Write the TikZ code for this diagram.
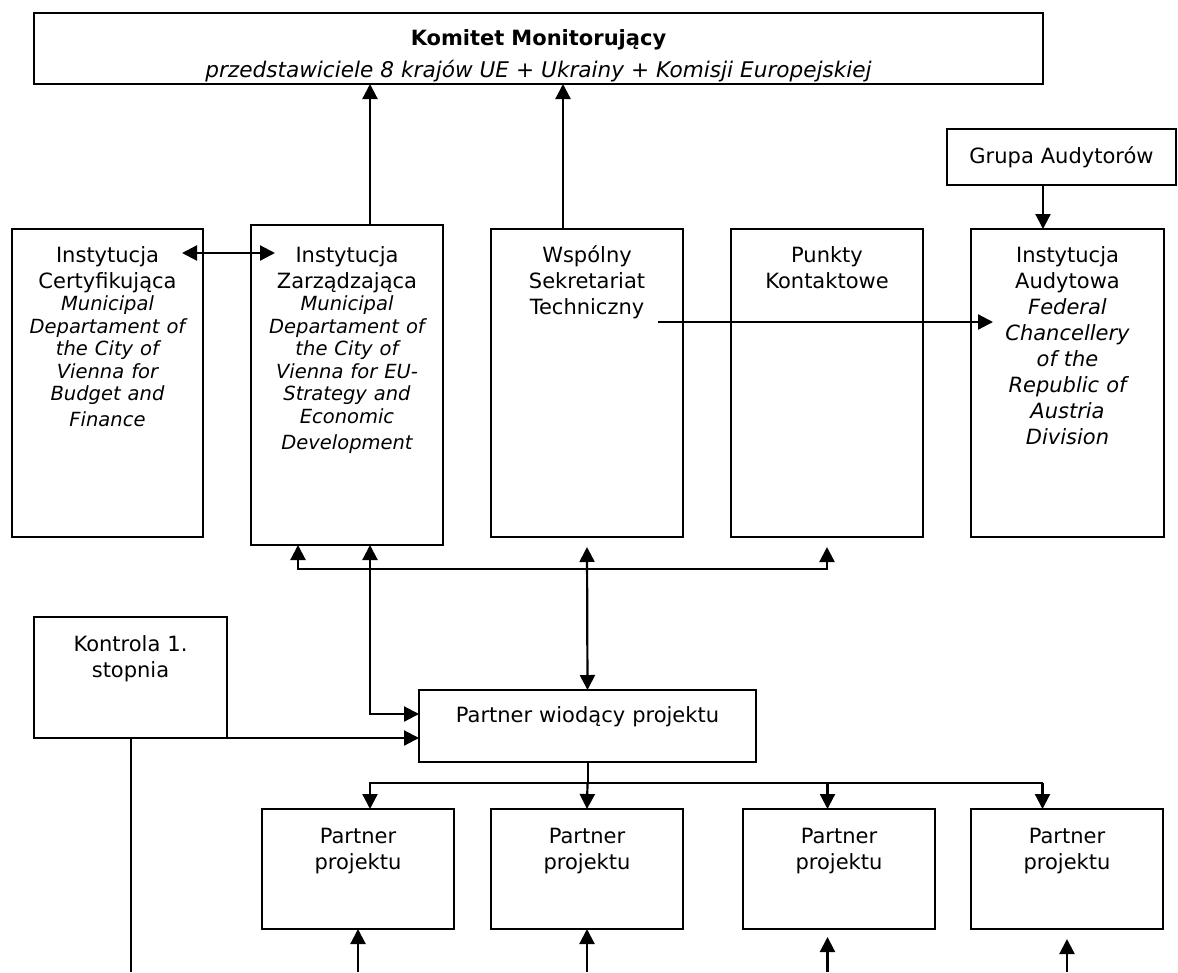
\documentclass[tikz,border=0pt]{standalone}
\usepackage{fontspec}
\setmainfont{DejaVu Sans}
\usetikzlibrary{arrows.meta,positioning}
\setlength{\parindent}{0pt}
\newcommand\bodyfnt{\fontsize{21}{26}\selectfont}
\newcommand\descfnt{\fontsize{19.5}{22.5}\selectfont\itshape}
\newcommand\firstln{\rule{0pt}{18pt}}

\begin{document}
\begin{tikzpicture}[x=1pt, y=-1pt, inner sep=0pt, outer sep=0pt,
  box/.style={draw, line width=2.2pt, anchor=north west},
  txt/.style={align=center, text width=190pt, font=\bodyfnt},
  arr/.style={line width=2.2pt, -{Triangle[length=15pt,width=15pt]}},
  darr/.style={line width=2.2pt, {Triangle[length=15pt,width=15pt]}-{Triangle[length=15pt,width=15pt]}}]
  \useasboundingbox[fill=white] (0,0) rectangle (1178,972);

  % top level
  \node[box, minimum width=1009pt, minimum height=71pt] (km) at (34,13) {};
  \node[txt, text width=1000pt, below=14pt of km.north] (km-t)
    {\firstln\textbf{Komitet Monitorujący}\\[6pt]\fontsize{21.6}{26}\selectfont\itshape przedstawiciele 8 krajów UE + Ukrainy + Komisji Europejskiej};
  \node[box, minimum width=229pt, minimum height=56pt] (ga) at (947,129) {};
  \node[txt, text width=220pt, below=16pt of ga.north] (ga-t) {\firstln Grupa Audytorów};

  % institutions
  \node[box, minimum width=191pt, minimum height=308pt] (ic) at (12,229) {};
  \node[txt, below=15pt of ic.north] (ic-t)
    {\firstln Instytucja\\Certyfikująca\par\descfnt Municipal\\Departament of\\the City of\\Vienna for\\Budget and\\Finance};
  \node[box, minimum width=192pt, minimum height=320pt] (iz) at (251,225) {};
  \node[txt, below=19pt of iz.north] (iz-t)
    {\firstln Instytucja\\Zarządzająca\par\descfnt Municipal\\Departament of\\the City of\\Vienna for EU-\\Strategy and\\Economic\\Development};
  \node[box, minimum width=192pt, minimum height=308pt] (wst) at (491,229) {};
  \node[txt, below=15pt of wst.north] (wst-t) {\firstln Wspólny\\Sekretariat\\Techniczny};
  \node[box, minimum width=192pt, minimum height=308pt] (pk) at (731,229) {};
  \node[txt, below=15pt of pk.north] (pk-t) {\firstln Punkty\\Kontaktowe};
  \node[box, minimum width=193pt, minimum height=308pt] (ia) at (971,229) {};
  \node[txt, below=15pt of ia.north] (ia-t)
    {\firstln Instytucja\\Audytowa\\\itshape Federal\\Chancellery\\of the\\Republic of\\Austria\\Division};

  % project level
  \node[box, minimum width=193pt, minimum height=121pt] (kt) at (34,617) {};
  \node[txt, below=16pt of kt.north] (kt-t) {\firstln Kontrola 1.\\stopnia};
  \node[box, minimum width=337pt, minimum height=72pt] (pw) at (419,690) {};
  \node[txt, text width=330pt, below=14pt of pw.north] (pw-t) {\firstln Partner wiodący projektu};
  \foreach \n/\x in {p1/262, p2/491, p3/743, p4/971} {
    \node[box, minimum width=192pt, minimum height=120pt] (\n) at (\x,809) {};
    \node[txt, below=16pt of \n.north] (\n-t) {\firstln Partner\\projektu};
  }

  \coordinate (bus) at (587,569);
  \coordinate (split) at (0,783);
  \coordinate (bottom) at (0,972);

  % connectors
  \draw[arr] ([xshift=23pt]iz.north) -- ([xshift=23pt]iz.north |- km.south);
  \draw[arr] ([xshift=-24pt]wst.north) -- ([xshift=-24pt]wst.north |- km.south);
  \draw[arr] ([xshift=-18.5pt]ga.south) -- ([xshift=-18.5pt]ga.south |- ia.north);
  \draw[darr] ([shift={(-21,24)}]ic.north east) -- ([shift={(24,28)}]iz.north west);
  \draw[arr] ([shift={(-25,93)}]wst.north east) -- ([shift={(22,93)}]ia.north west);
  \draw[darr] ([xshift=-49pt]iz.south) |- (bus) -| ([yshift=-10pt]pk.south);
  \draw[darr] ([yshift=-10pt]wst.south) -- (pw.north);
  \draw[darr] ([xshift=23pt]iz.south) |- ([yshift=12pt]pw.west);
  \draw[arr] (kt.south east) -- (kt.south east -| pw.west);
  \draw[line width=2pt] (kt.south) -- (kt.south |- bottom);
  \draw[line width=2pt] (pw.south) -- (pw.south |- split);
  \draw[arr] (pw.south |- split) -- (p2.north);
  \draw[arr] ([xshift=-24.5pt]p4.north |- split) -| ([xshift=12pt]p1.north);
  \draw[arr] ([xshift=-24.5pt]p4.north |- split) -- ([xshift=-24.5pt]p4.north);
  \draw[arr] ([xshift=-11.5pt]p3.north |- split) -- ([xshift=-11.5pt]p3.north);
  \foreach \n/\dx/\g in {p1/0/0, p2/0/0, p3/-11.5/8, p4/0/10}
    \draw[arr] ([xshift=\dx pt]\n.south |- bottom) -- ([shift={(\dx,\g)}]\n.south);
\end{tikzpicture}
\end{document}
